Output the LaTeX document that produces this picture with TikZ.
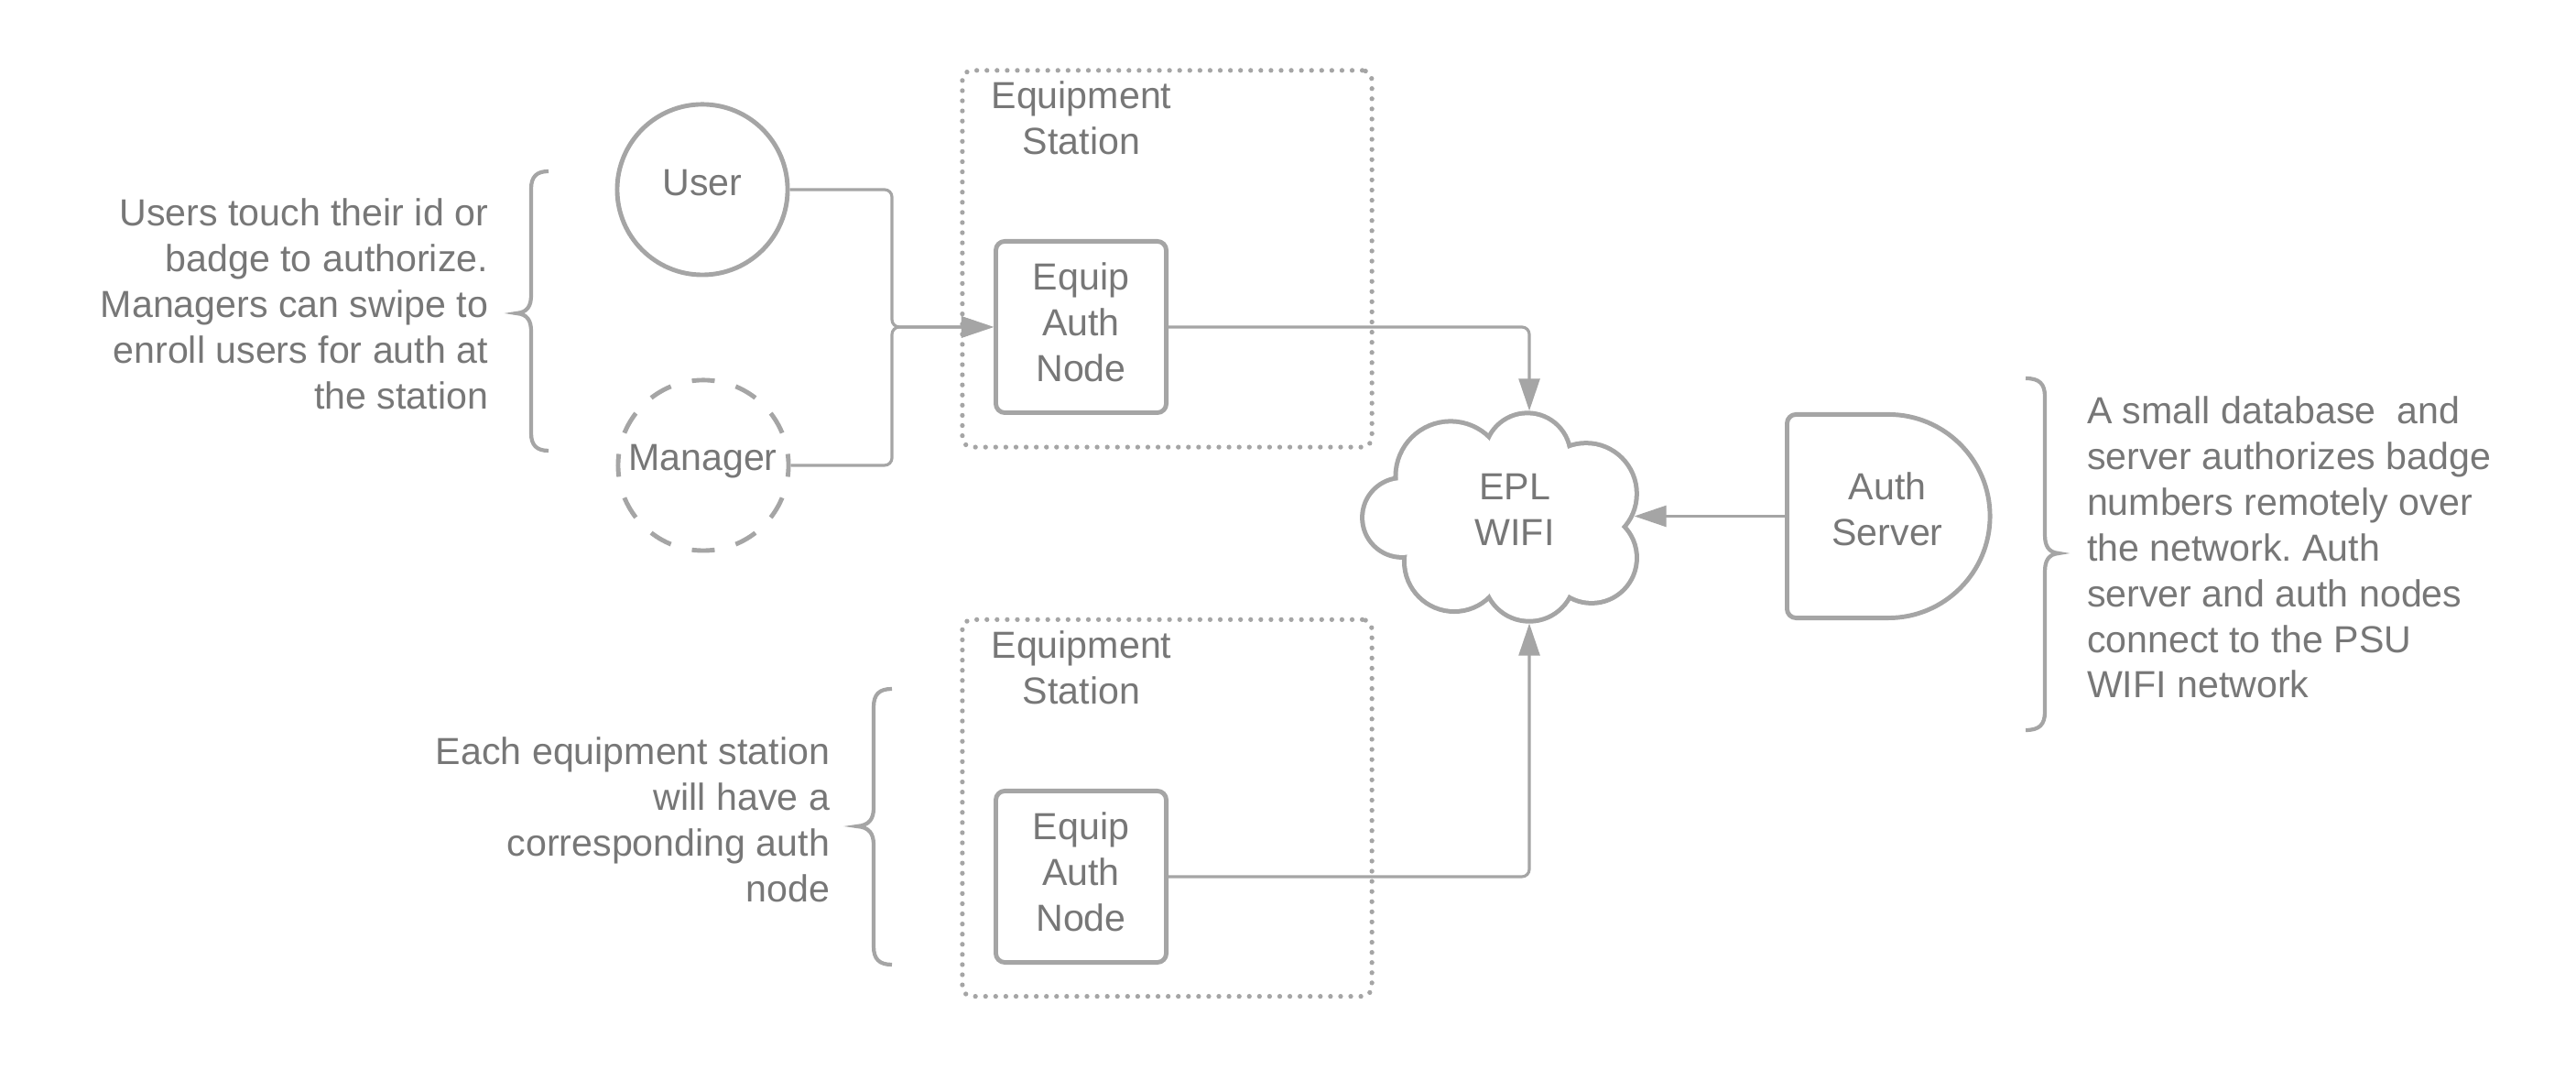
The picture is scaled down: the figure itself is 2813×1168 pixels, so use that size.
\documentclass[tikz,border=0pt]{standalone}
\usepackage{fontspec}
\setmainfont{Liberation Sans}
\usetikzlibrary{arrows.meta}
\definecolor{lc}{HTML}{A5A5A5}
\definecolor{tc}{HTML}{777777}
\frenchspacing
\begin{document}
\begin{tikzpicture}[x=0.01cm,y=0.01cm,
  txt/.style={text=tc, font=\fontsize{11.7}{14.2}\selectfont\frenchspacing, inner sep=0pt, outer sep=0pt},
  shapeline/.style={draw=lc, line width=1.4pt},
  eqbox/.style={shapeline, rectangle, rounded corners=2.8pt, minimum width=1.86cm, minimum height=1.87cm, inner sep=0pt},
  stationbox/.style={draw=lc, line width=1.5pt, line cap=round, dash pattern=on 0pt off 3.15pt, rounded corners=3pt, rectangle, minimum width=4.47cm, minimum height=4.11cm, inner sep=0pt},
  actor/.style={shapeline, circle, minimum size=1.86cm, inner sep=0pt},
  conn/.style={draw=lc, line width=0.9pt, rounded corners=2.3pt},
  arr/.style={-{Triangle[length=10pt,width=6.5pt]}},
  bracestyle/.style={draw=lc, line width=1.2pt},
]
\useasboundingbox (0,0) rectangle (2813,1168);

% equipment stations
\node[stationbox] (st1) at (1274.5,885.5) {};
\node[stationbox] (st2) at (1274.5,286) {};
\node[txt, align=center] (st1t) at (1181,1039.5) {Equipment\\Station};
\node[txt, align=center] (st2t) at (1181,439.5) {Equipment\\Station};

% auth nodes
\node[eqbox] (eq1) at (1180.5,811) {};
\node[eqbox] (eq2) at (1180.5,211) {};
\node[txt, align=center] (eq1t) at (1180.5,816) {Equip\\Auth\\Node};
\node[txt, align=center] (eq2t) at (1180.5,216) {Equip\\Auth\\Node};

% actors
\node[actor] (user) at (767,961) {};
\node[txt] (usert) at (767,968.7) {User};
\node[actor, dash pattern=on 7.1pt off 6.755pt, dash phase=3.55pt] (mgr) at (768,660) {};
\node[txt] (mgrt) at (767.5,664) {Manager};

% cloud
\foreach \cx/\cy/\r in {1584/648/0.575, 1668/670/0.446, 1732/629/0.528, 1738/559/0.469, 1670/540/0.477, 1588/555/0.52, 1531/603/0.409}
  \draw[lc, line width=2.85pt] (\cx,\cy) circle[radius=\r cm];
\foreach \cx/\cy/\r in {1584/648/0.575, 1668/670/0.446, 1732/629/0.528, 1738/559/0.469, 1670/540/0.477, 1588/555/0.52, 1531/603/0.409}
  \fill[white] (\cx,\cy) circle[radius=\r cm];
\fill[white] (1536.6,641.4) -- (1628.4,681.9) -- (1707.6,672.9) -- (1761.6,593.7) -- (1707.6,524.4) -- (1628.4,524.4) -- (1545.6,564) -- cycle;
\node[txt, align=center] (wifi) at (1654,612) {EPL\\WIFI};
\coordinate (ctop) at (1670,719.5);
\coordinate (cbot) at (1670,487.5);
\coordinate (cright) at (1784.5,604.5);

% auth server
\node[minimum width=2.21cm, minimum height=2.22cm, inner sep=0pt, outer sep=0pt] (auth) at (2062,604.5) {};
\draw[shapeline] (auth.north) [rounded corners=2.8pt] -- (auth.north west) -- (auth.south west) [sharp corners] -- (auth.south) arc[start angle=-90, end angle=90, radius=1.11cm] -- cycle;
\node[txt, align=center] (autht) at (2061,612) {Auth\\Server};

% connectors
\coordinate (jn) at (974,811);
\draw[conn, arr] (user.east) -| (jn) -- (eq1.west);
\draw[conn, arr] (mgr.east) -| (jn) -- (eq1.west);
\draw[conn, arr] (eq1.east) -| (ctop);
\draw[conn, arr] (eq2.east) -| (cbot);
\draw[conn, arr] (auth.west) -- (cright);

% braces
\draw[bracestyle] (599,981) .. controls (586,981) and (580,975) .. (580,962) -- (580,846) .. controls (580,834) and (576,827) .. (564,826) .. controls (576,825) and (580,818) .. (580,806) -- (580,695) .. controls (580,682) and (586,676) .. (599,676);
\draw[bracestyle] (974,416) .. controls (960,416) and (954,410) .. (954,396) -- (954,286) .. controls (954,274) and (949,267) .. (936,266) .. controls (949,265) and (954,258) .. (954,246) -- (954,135) .. controls (954,121) and (960,115) .. (974,115);
\draw[bracestyle] (2212,755) .. controls (2227,755) and (2233,749) .. (2233,735) -- (2233,584) .. controls (2233,572) and (2237,565) .. (2248,564) .. controls (2237,563) and (2233,556) .. (2233,544) -- (2233,391) .. controls (2233,377) and (2227,371) .. (2212,371);

% notes
\node[txt, align=right, anchor=east] (note1) at (533,836) {Users touch their id or\\badge to authorize.\\Managers can swipe to\\enroll users for auth at\\the station};
\node[txt, align=right, anchor=east] (note2) at (906,273) {Each equipment station\\will have a\\corresponding auth\\node};
\node[txt, align=left, anchor=west] (note3) at (2279,570.5) {A small database\ \ and\\server authorizes badge\\numbers remotely over\\the network. Auth\\server and auth nodes\\connect to the PSU\\WIFI network};
\end{tikzpicture}
\end{document}
